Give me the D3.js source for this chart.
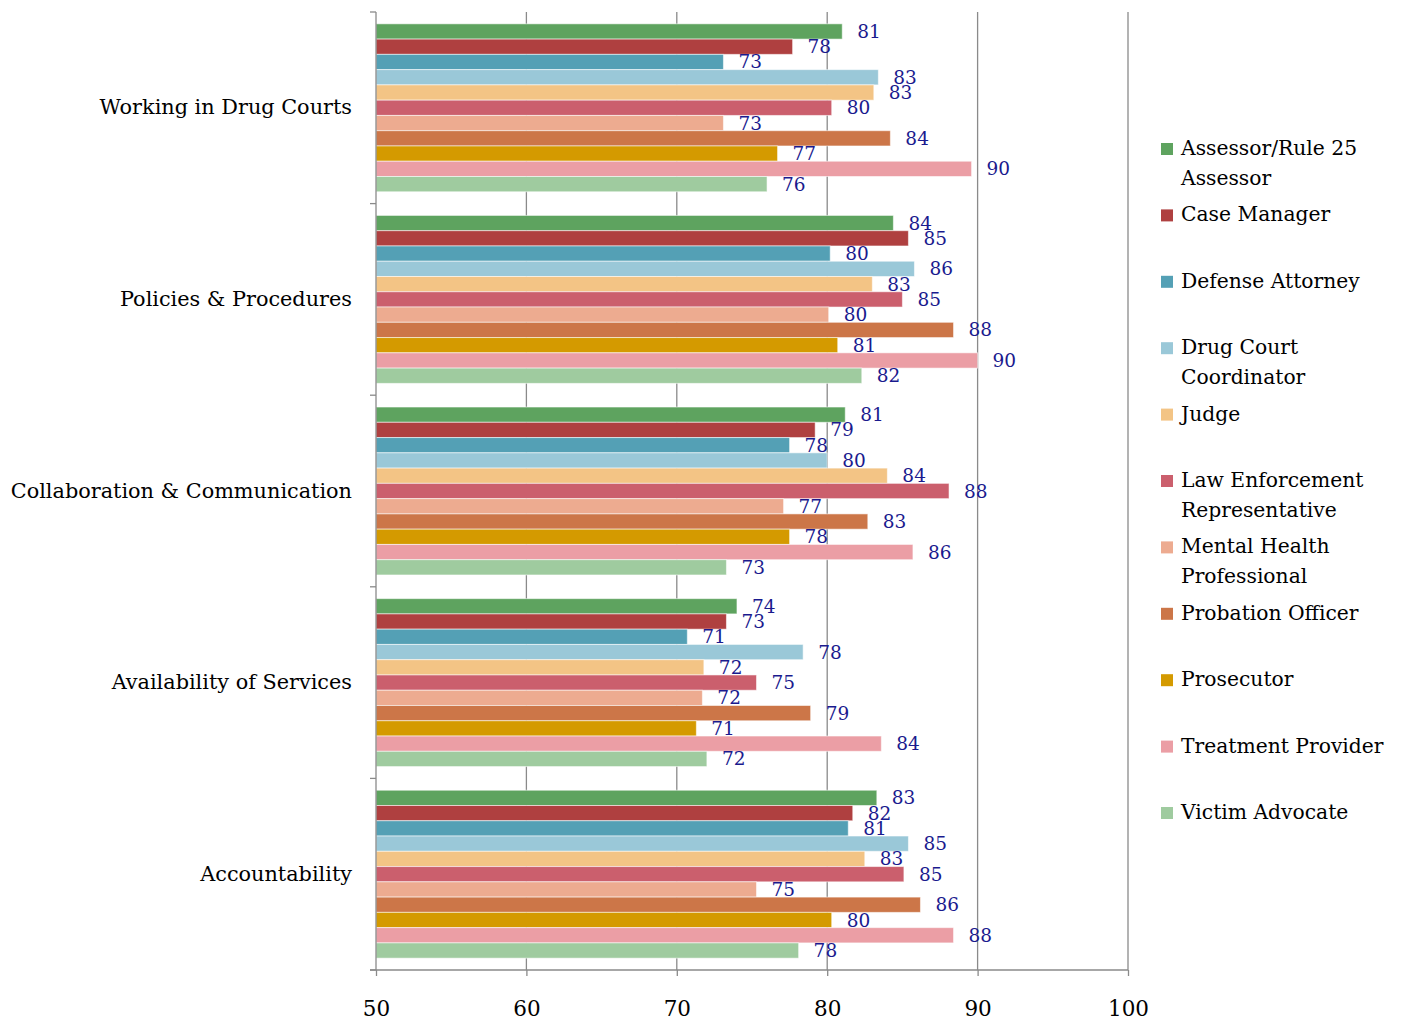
<!DOCTYPE html>
<html>
<head>
<meta charset="utf-8">
<script src="https://cdn.jsdelivr.net/npm/d3@7"></script>
<style>
  html, body { margin: 0; padding: 0; background: #ffffff; }
  svg { display: block; }
</style>
</head>
<body>
<svg id="chart" width="1411" height="1022"></svg>
<script>
// ---- data ----
const categories = [
  "Working in Drug Courts",
  "Policies & Procedures",
  "Collaboration & Communication",
  "Availability of Services",
  "Accountability"
];
const seriesNames = [
  "Assessor/Rule 25 Assessor",
  "Case Manager",
  "Defense Attorney",
  "Drug Court Coordinator",
  "Judge",
  "Law Enforcement Representative",
  "Mental Health Professional",
  "Probation Officer",
  "Prosecutor",
  "Treatment Provider",
  "Victim Advocate"
];
const seriesColors = [
  "#5ea35f", "#af4040", "#54a0b5", "#9ac8d8", "#f3c485",
  "#cb5f6d", "#edab90", "#cc7648", "#d49a00", "#eb9ea5", "#9fcb9f"
];
// values per series, in category order
const assessor      = [81.0, 84.4, 81.2, 74.0, 83.3];
const caseManager   = [77.7, 85.4, 79.2, 73.3, 81.7];
const defense       = [73.1, 80.2, 77.5, 70.7, 81.4];
const coordinator   = [83.4, 85.8, 80.0, 78.4, 85.4];
const judge         = [83.1, 83.0, 84.0, 71.8, 82.5];
const lawEnforce    = [80.3, 85.0, 88.1, 75.3, 85.1];
const mentalHealth  = [73.1, 80.1, 77.1, 71.7, 75.3];
const probation     = [84.2, 88.4, 82.7, 78.9, 86.2];
const prosecutor    = [76.7, 80.7, 77.5, 71.3, 80.3];
const treatment     = [89.6, 90.0, 85.7, 83.6, 88.4];
const victim        = [76.0, 82.3, 73.3, 72.0, 78.1];
const seriesValues = [assessor, caseManager, defense, coordinator, judge,
  lawEnforce, mentalHealth, probation, prosecutor, treatment, victim];
const xTicks = [50, 60, 70, 80, 90, 100];

// ---- layout ----
const FONT = "'DejaVu Serif', 'Liberation Serif', serif";
const plot = { left: 376, right: 1128, top: 12, bottom: 970 };
const svg = d3.select("#chart");

const x = d3.scaleLinear().domain([50, 100]).range([plot.left, plot.right]);
const y0 = d3.scaleBand().domain(categories).range([plot.top, plot.bottom]).padding(0);
const y1 = d3.scaleBand().domain(seriesNames).range([0, y0.bandwidth()])
  .paddingInner(0).paddingOuter(0.775);

const gridColor = "#8a8a8a";

// vertical gridlines
svg.append("g").selectAll("line").data(xTicks.slice(1)).join("line")
  .attr("x1", d => x(d)).attr("x2", d => x(d))
  .attr("y1", plot.top).attr("y2", plot.bottom)
  .attr("stroke", gridColor).attr("stroke-width", 1.3);

// bars
const rows = [];
categories.forEach((c, ci) => {
  seriesNames.forEach((s, si) => {
    rows.push({ cat: c, series: s, si, value: seriesValues[si][ci] });
  });
});

const gBars = svg.append("g");
gBars.selectAll("rect").data(rows).join("rect")
  .attr("x", x(50))
  .attr("y", d => y0(d.cat) + y1(d.series))
  .attr("width", d => x(d.value) - x(50))
  .attr("height", y1.bandwidth())
  .attr("fill", d => seriesColors[d.si])
  .attr("stroke", "rgba(255,255,255,0.55)")
  .attr("stroke-width", 1);

// value labels
gBars.selectAll("text").data(rows).join("text")
  .attr("x", d => x(d.value) + 15)
  .attr("y", d => y0(d.cat) + y1(d.series) + y1.bandwidth() / 2 + 1.5)
  .attr("dominant-baseline", "middle")
  .attr("font-family", FONT)
  .attr("font-size", 18.5)
  .attr("fill", "#1a1a8e")
  .text(d => d3.format(".0f")(d.value));

// y axis (left)
svg.append("line").attr("x1", plot.left).attr("x2", plot.left)
  .attr("y1", plot.top).attr("y2", plot.bottom)
  .attr("stroke", gridColor).attr("stroke-width", 1.3);
const boundaries = categories.map(c => y0(c)).concat([plot.bottom]);
svg.append("g").selectAll("line").data(boundaries).join("line")
  .attr("x1", plot.left - 6).attr("x2", plot.left)
  .attr("y1", d => d).attr("y2", d => d)
  .attr("stroke", gridColor).attr("stroke-width", 1.3);

// category labels
svg.append("g").selectAll("text").data(categories).join("text")
  .attr("x", 352)
  .attr("y", d => y0(d) + y0.bandwidth() / 2 + 1)
  .attr("text-anchor", "end")
  .attr("dominant-baseline", "middle")
  .attr("font-family", FONT)
  .attr("font-size", 20.8)
  .attr("fill", "#000")
  .text(d => d);

// x axis
const xAxis = d3.axisBottom(x).tickValues(xTicks).tickSize(6).tickSizeOuter(0).tickPadding(25);
const gX = svg.append("g").attr("transform", `translate(0,${plot.bottom})`).call(xAxis);
gX.select(".domain").attr("stroke", gridColor).attr("stroke-width", 1.3)
  .attr("d", `M${plot.left - 6},0H${plot.right}`);
gX.selectAll(".tick line").attr("stroke", gridColor).attr("stroke-width", 1.3);
gX.selectAll(".tick text").attr("font-family", FONT).attr("font-size", 21.5).attr("fill", "#000");

// legend
const legendX = 1161, legendTop = 149, legendStep = 66.4, lineH = 29.5, wrapW = 230;
const gL = svg.append("g");
seriesNames.forEach((name, i) => {
  const cy = legendTop + i * legendStep;
  gL.append("rect").attr("x", legendX).attr("y", cy - 6).attr("width", 12).attr("height", 12)
    .attr("fill", seriesColors[i]);
  const t = gL.append("text").attr("x", legendX + 20).attr("y", cy)
    .attr("dominant-baseline", "middle")
    .attr("font-family", FONT).attr("font-size", 20.3).attr("fill", "#000");
  // word wrap
  const words = name.split(" ");
  let line = [];
  let tspan = t.append("tspan").attr("x", legendX + 20).attr("dy", 0);
  words.forEach(w => {
    line.push(w);
    tspan.text(line.join(" "));
    if (tspan.node().getComputedTextLength() > wrapW && line.length > 1) {
      line.pop();
      tspan.text(line.join(" "));
      line = [w];
      tspan = t.append("tspan").attr("x", legendX + 20).attr("dy", lineH).text(w);
    }
  });
});
</script>
</body>
</html>
